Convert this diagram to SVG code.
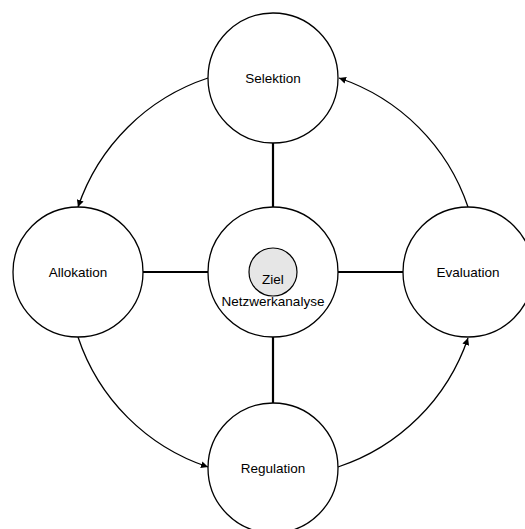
<svg xmlns="http://www.w3.org/2000/svg" width="525" height="529" viewBox="0 0 525 529">
  <style>
    .node { fill: #ffffff; stroke: #000000; stroke-width: 1.3; }
    .goal { fill: #e6e6e6; stroke: #000000; stroke-width: 1.2; }
    .label { font-family: "Liberation Sans", Arial, sans-serif; font-size: 13.5px; fill: #000000; text-anchor: middle; }
    .spoke { stroke: #000000; stroke-width: 2.2; fill: none; }
    .cycle { stroke: #000000; stroke-width: 1.3; fill: none; marker-end: url(#arrow); }
  </style>
  <defs>
    <marker id="arrow" viewBox="0 0 10 10" refX="10" refY="5" markerWidth="7" markerHeight="7" markerUnits="userSpaceOnUse" orient="auto">
      <path d="M0,0 L10,5 L0,10 Z" fill="#000000"/>
    </marker>
  </defs>
  <rect width="525" height="529" fill="#ffffff"/>

  <g id="connectors">
    <!-- spokes from the hub to each phase -->
    <line class="spoke" x1="273" y1="143" x2="273" y2="207"/>
    <line class="spoke" x1="143" y1="272" x2="208" y2="272"/>
    <line class="spoke" x1="338" y1="272" x2="403" y2="272"/>
    <line class="spoke" x1="273" y1="337" x2="273" y2="403"/>
    <!-- outer cycle arcs around the hub -->
    <path class="cycle" d="M208,78 A205,205 0 0 0 78,207"/>
    <path class="cycle" d="M78,337 A205,205 0 0 0 208,467"/>
    <path class="cycle" d="M338,467 A205,205 0 0 0 468,338"/>
    <path class="cycle" d="M468,207 A205,205 0 0 0 339,78"/>
  </g>

  <g id="selektion">
    <circle class="node" cx="273" cy="78" r="65"/>
    <text class="label" x="273" y="83">Selektion</text>
  </g>
  <g id="allokation">
    <circle class="node" cx="78" cy="272" r="65"/>
    <text class="label" x="78" y="277">Allokation</text>
  </g>
  <g id="evaluation">
    <circle class="node" cx="468" cy="272" r="65"/>
    <text class="label" x="468" y="277">Evaluation</text>
  </g>
  <g id="regulation">
    <circle class="node" cx="273" cy="468" r="65"/>
    <text class="label" x="273" y="473">Regulation</text>
  </g>
  <g id="netzwerkanalyse">
    <circle class="node" cx="273" cy="272" r="65"/>
    <circle class="goal" cx="273" cy="272" r="24"/>
    <text class="label" x="273" y="284">Ziel</text>
    <text class="label" x="273" y="306">Netzwerkanalyse</text>
  </g>
</svg>
